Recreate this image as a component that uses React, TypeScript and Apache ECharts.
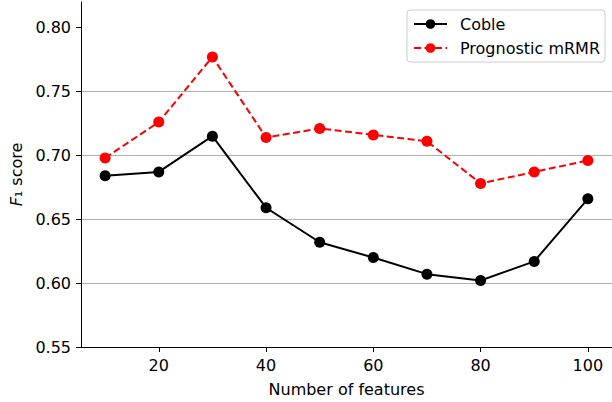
import React, { useEffect, useRef } from "react";
import * as echarts from "echarts";

const features = [10, 20, 30, 40, 50, 60, 70, 80, 90, 100];
const coble = [0.684, 0.687, 0.715, 0.659, 0.632, 0.620, 0.607, 0.602, 0.617, 0.666];
const mrmr = [0.698, 0.726, 0.777, 0.714, 0.721, 0.716, 0.711, 0.678, 0.687, 0.696];
const xTicks = [20, 40, 60, 80, 100];
const yTicks = [0.55, 0.6, 0.65, 0.7, 0.75, 0.8];

const FONT = "DejaVu Sans";
const FS = 16;

export default function App() {
  const ref = useRef<HTMLDivElement>(null);
  useEffect(() => {
    if (!ref.current) return;
    const chart = echarts.init(ref.current, null, { renderer: "svg" });
    chart.setOption({
      animation: false,
      backgroundColor: "#ffffff",
      textStyle: { fontFamily: FONT },
      grid: { left: 78, right: -3, top: 2, bottom: 51, containLabel: false },
      legend: {
        orient: "vertical",
        right: 7,
        top: 10,
        padding: [6, 5, 6, 6],
        itemGap: 8,
        itemWidth: 33,
        itemHeight: 12,
        backgroundColor: "rgba(255,255,255,0.85)",
        borderColor: "#cccccc",
        borderWidth: 1,
        borderRadius: 3,
        textStyle: { fontFamily: FONT, fontSize: FS, color: "#000", padding: [0, 0, 0, 8] },
        data: ["Coble", "Prognostic mRMR"],
      },
      xAxis: {
        type: "value",
        min: 5.5,
        max: 104.5,
        name: "Number of features",
        nameLocation: "middle",
        nameGap: 34,
        nameTextStyle: { fontFamily: FONT, fontSize: FS, color: "#000" },
        axisLine: { show: true, lineStyle: { color: "#000", width: 1 } },
        axisTick: { show: true, length: 5, lineStyle: { color: "#000" }, customValues: xTicks },
        axisLabel: { fontFamily: FONT, fontSize: FS, color: "#000", margin: 10, customValues: xTicks },
        splitLine: { show: false },
      },
      yAxis: {
        type: "value",
        min: 0.55,
        max: 0.82,
        name: "{i|F}₁ score",
        nameLocation: "middle",
        nameGap: 57,
        nameTextStyle: {
          fontFamily: FONT,
          fontSize: FS,
          color: "#000",
          rich: { i: { fontFamily: FONT, fontSize: FS, fontStyle: "italic", color: "#000" } },
        },
        axisLine: { show: true, lineStyle: { color: "#000", width: 1 } },
        axisTick: { show: true, length: 5, lineStyle: { color: "#000" }, customValues: yTicks },
        axisLabel: {
          fontFamily: FONT,
          fontSize: FS,
          color: "#000",
          margin: 10,
          customValues: yTicks,
          formatter: (v: number) => v.toFixed(2),
        },
        splitLine: { show: true, showMinLine: false, showMaxLine: false, lineStyle: { color: "#b0b0b0", width: 1 } },
      },
      series: [
        {
          name: "Coble",
          type: "line",
          data: features.map((f, i) => [f, coble[i]]),
          symbol: "circle",
          symbolSize: 11,
          itemStyle: { color: "#000000" },
          lineStyle: { color: "#000000", width: 2 },
          z: 3,
        },
        {
          name: "Prognostic mRMR",
          type: "line",
          data: features.map((f, i) => [f, mrmr[i]]),
          symbol: "circle",
          symbolSize: 11,
          itemStyle: { color: "#ff0000" },
          lineStyle: { color: "#ff0000", width: 2, type: [7, 3.5] },
          z: 4,
        },
      ],
    });
    return () => chart.dispose();
  }, []);
  return (
    <div
      ref={ref}
      style={{ position: "fixed", left: 0, top: 0, width: 612, height: 402 }}
    />
  );
}
